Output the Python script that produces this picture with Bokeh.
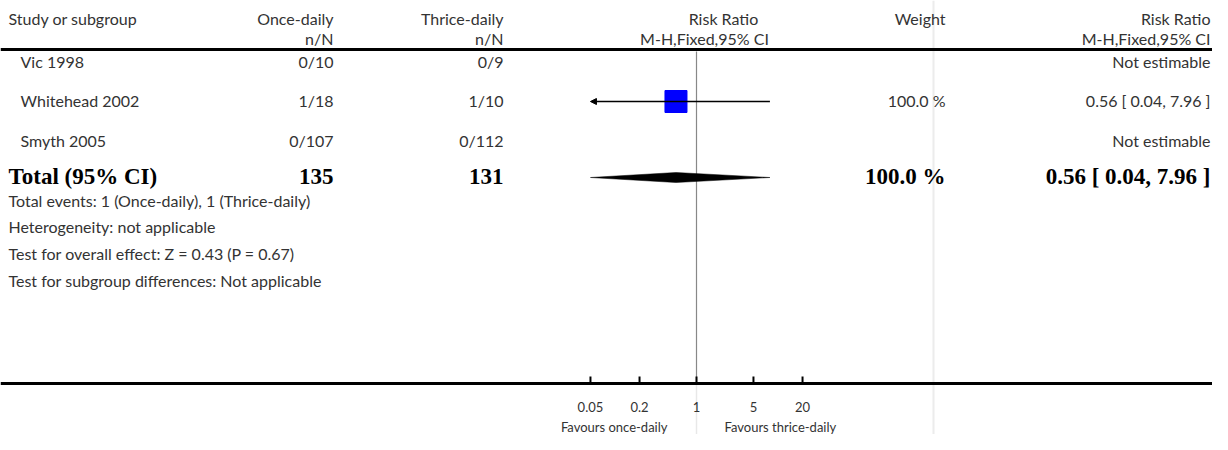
import math
from bokeh.plotting import figure
from bokeh.models import Range1d, LogScale, ColumnDataSource, Arrow, NormalHead
from bokeh.embed import file_html
from bokeh.resources import INLINE
from bokeh.core.properties import value

# ---------------- data ----------------
studies = ["Vic 1998", "Whitehead 2002", "Smyth 2005"]
once_n = [0, 1, 0]
once_N = [10, 18, 107]
thrice_n = [0, 1, 0]
thrice_N = [9, 10, 112]
rr_est = [None, 0.56, None]
rr_lo = [None, 0.04, None]
rr_hi = [None, 7.96, None]
weights = [None, 100.0, None]

total_label = "Total (95% CI)"
total_once_N = 135
total_thrice_N = 131
total_est, total_lo, total_hi = 0.56, 0.04, 7.96
total_weight = 100.0

footnotes = [
    "Total events: %d (Once-daily), %d (Thrice-daily)" % (sum(once_n), sum(thrice_n)),
    "Heterogeneity: not applicable",
    "Test for overall effect: Z = 0.43 (P = 0.67)",
    "Test for subgroup differences: Not applicable",
]

header1 = ["Study or subgroup", "Once-daily", "Thrice-daily", "Risk Ratio", "Weight", "Risk Ratio"]
header2 = ["n/N", "n/N", "M-H,Fixed,95% CI", "M-H,Fixed,95% CI"]

tick_values = [0.05, 0.2, 1, 5, 20]
tick_labels = ["0.05", "0.2", "1", "5", "20"]
axis_min, axis_max = 0.05, 20
favours_left = "Favours once-daily"
favours_right = "Favours thrice-daily"

# ---------------- layout ----------------
W, H = 1212, 434
ONE_X = 696.0          # x of RR = 1
PX_PER_DEC = 81.5      # pixels per decade

FONT = value("Lato")
BOLD_FONT = value("Liberation Serif")
TXT = "#333333"
FS = "16px"

p = figure(width=W, height=H,
           x_range=Range1d(0, W), y_range=Range1d(H, 0),
           output_backend="svg", toolbar_location=None, min_border=0,
           x_axis_location=None, y_axis_location=None, outline_line_color=None)
p.grid.visible = False
p.background_fill_color = "white"
p.border_fill_color = "white"
p.extra_x_ranges = {"rr": Range1d(10 ** ((0 - ONE_X) / PX_PER_DEC),
                                  10 ** ((W - ONE_X) / PX_PER_DEC))}
p.extra_x_scales = {"rr": LogScale()}

# column positions
X_STUDY_HDR = 8
X_STUDY = 20
X_TOTAL = 8
X_ONCE = 333
X_THRICE = 503
X_WEIGHT = 945
X_RR = 1210
X_SEP = 933

Y_H1, Y_H2 = 18, 38
Y_RULE_TOP = 49
Y_ROWS = [61, 100, 140]
Y_TOTAL = 176
Y_FOOT = [200, 226, 253, 280]
Y_RULE_BOT = 383
Y_TICKLAB = 406
Y_FAV = 426

# faint column separator
p.segment(x0=[X_SEP], y0=[0], x1=[X_SEP], y1=[H], line_color="#ececec", line_width=2)

# vertical line of no effect
p.segment(x0=[1], y0=[Y_RULE_TOP + 2], x1=[1], y1=[Y_RULE_BOT], x_range_name="rr",
          line_color="#888888", line_width=1.2)
p.segment(x0=[1], y0=[Y_RULE_BOT], x1=[1], y1=[H], x_range_name="rr",
          line_color="#e8e8e8", line_width=1.5)

# rules
p.segment(x0=[0, 0], y0=[Y_RULE_TOP, Y_RULE_BOT], x1=[W, W],
          y1=[Y_RULE_TOP, Y_RULE_BOT], line_color="black", line_width=3)

# ticks
p.segment(x0=tick_values, x1=tick_values, y0=[Y_RULE_BOT - 7] * len(tick_values),
          y1=[Y_RULE_BOT] * len(tick_values), x_range_name="rr", line_color="black", line_width=2)
p.text(x=tick_values, y=[Y_TICKLAB] * len(tick_values), text=tick_labels, x_range_name="rr",
       text_align="center", text_baseline="middle", text_font=FONT, text_font_size="13px",
       text_color=TXT)
p.text(x=[ONE_X - 29], y=[Y_FAV], text=[favours_left], text_align="right", text_baseline="middle",
       text_font=FONT, text_font_size="13px", text_color=TXT)
p.text(x=[ONE_X + 28], y=[Y_FAV], text=[favours_right], text_align="left", text_baseline="middle",
       text_font=FONT, text_font_size="13px", text_color=TXT)


def txt(x, y, s, align, size=FS, font=FONT, color=TXT, style="normal"):
    p.text(x=[x], y=[y], text=[s], text_align=align, text_baseline="middle",
           text_font=font, text_font_size=size, text_color=color, text_font_style=style)


# headers
txt(X_STUDY_HDR, Y_H1, header1[0], "left")
txt(X_ONCE, Y_H1, header1[1], "right")
txt(X_THRICE, Y_H1, header1[2], "right")
txt(723, Y_H1, header1[3], "center")
txt(X_WEIGHT, Y_H1, header1[4], "right")
txt(X_RR, Y_H1, header1[5], "right")
txt(X_ONCE, Y_H2, header2[0], "right")
txt(X_THRICE, Y_H2, header2[1], "right")
txt(704, Y_H2, header2[2], "center")
txt(X_RR, Y_H2, header2[3], "right")

# study rows
rows = ColumnDataSource(dict(
    y=Y_ROWS,
    study=studies,
    once=["%d/%d" % (a, b) for a, b in zip(once_n, once_N)],
    thrice=["%d/%d" % (a, b) for a, b in zip(thrice_n, thrice_N)],
    weight=["" if w is None else "%.1f %%" % w for w in weights],
    rr=["Not estimable" if e is None else "%.2f [ %.2f, %.2f ]" % (e, l, h)
        for e, l, h in zip(rr_est, rr_lo, rr_hi)],
))
common = dict(source=rows, text_baseline="middle", text_font=FONT, text_font_size=FS, text_color=TXT)
p.text(x=X_STUDY, y="y", text="study", text_align="left", **common)
p.text(x=X_ONCE, y="y", text="once", text_align="right", **common)
p.text(x=X_THRICE, y="y", text="thrice", text_align="right", **common)
p.text(x=X_WEIGHT, y="y", text="weight", text_align="right", **common)
p.text(x=X_RR, y="y", text="rr", text_align="right", **common)

# study estimates
for y, e, l, h, w in zip(Y_ROWS, rr_est, rr_lo, rr_hi, weights):
    if e is None:
        continue
    yc = y + 1
    p.scatter(x=[e], y=[yc], marker="square", size=22, fill_color="#0000ff",
              line_color="#0000ff", x_range_name="rr")
    lo_c, hi_c = max(l, axis_min), min(h, axis_max)
    if l < axis_min:
        p.add_layout(Arrow(end=NormalHead(size=6, fill_color="black", line_color="black"),
                           x_start=hi_c, y_start=yc, x_end=lo_c, y_end=yc,
                           line_color="black", line_width=1.5, x_range_name="rr"))
    else:
        p.segment(x0=[lo_c], x1=[hi_c], y0=[yc], y1=[yc], line_color="black",
                  line_width=1.5, x_range_name="rr")

# total row
BF = dict(font=BOLD_FONT, size="23px", color="black", style="bold")
txt(X_TOTAL, Y_TOTAL, total_label, "left", **BF)
txt(X_ONCE, Y_TOTAL, str(total_once_N), "right", **BF)
txt(X_THRICE, Y_TOTAL, str(total_thrice_N), "right", **BF)
txt(X_WEIGHT, Y_TOTAL, "%.1f %%" % total_weight, "right", **BF)
txt(X_RR, Y_TOTAL, "%.2f [ %.2f, %.2f ]" % (total_est, total_lo, total_hi), "right", **BF)

dl, dh = max(total_lo, axis_min), min(total_hi, axis_max)
yd = Y_TOTAL + 1
p.patch(x=[dl, total_est, dh, total_est], y=[yd, yd - 5, yd, yd + 5], x_range_name="rr",
        fill_color="black", line_color="black", line_width=0.5)

# footnotes
for y, s in zip(Y_FOOT, footnotes):
    txt(X_TOTAL, y, s, "left")

open("out.html", "w").write(file_html(p, INLINE))
